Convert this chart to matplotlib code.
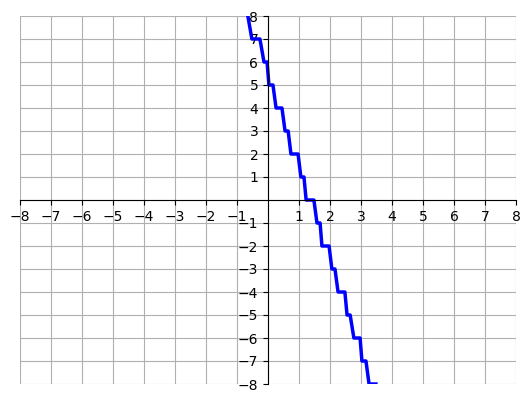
import numpy as np
import matplotlib.pyplot as plt

# vertices of the step curve
x_vals = [-0.65, -0.52, -0.26, -0.13, -0.03, 0.03, 0.16, 0.26, 0.45, 0.55, 0.65,
          0.74, 0.97, 1.06, 1.16, 1.23, 1.48, 1.58, 1.68, 1.74, 1.97, 2.06, 2.16,
          2.26, 2.48, 2.55, 2.65, 2.77, 2.97, 3.03, 3.16, 3.26, 3.48]
y_vals = [8, 7, 7, 6, 6, 5, 5, 4, 4, 3, 3,
          2, 2, 1, 1, 0, 0, -1, -1, -2, -2, -3, -3,
          -4, -4, -5, -5, -6, -6, -7, -7, -8, -8]

ticks = [t for t in range(-8, 9) if t != 0]

fig = plt.figure(figsize=(5.3, 4.03), dpi=100)
ax = fig.add_axes([20 / 530, 1 - 384 / 403, 496 / 530, 368 / 403])

ax.plot(x_vals, y_vals, color='blue', linewidth=2.5)

ax.set_xlim(-8, 8)
ax.set_ylim(-8, 8)
ax.spines['left'].set_position('zero')
ax.spines['bottom'].set_position('zero')
ax.spines['right'].set_visible(False)
ax.spines['top'].set_visible(False)
ax.set_xticks(ticks)
ax.set_yticks(ticks)
ax.set_xticks(range(-8, 9), minor=True)
ax.set_yticks(range(-8, 9), minor=True)
ax.grid(True, which='both', color='#b0b0b0')
ax.set_axisbelow(True)

fig.savefig('out.png', dpi=100)
